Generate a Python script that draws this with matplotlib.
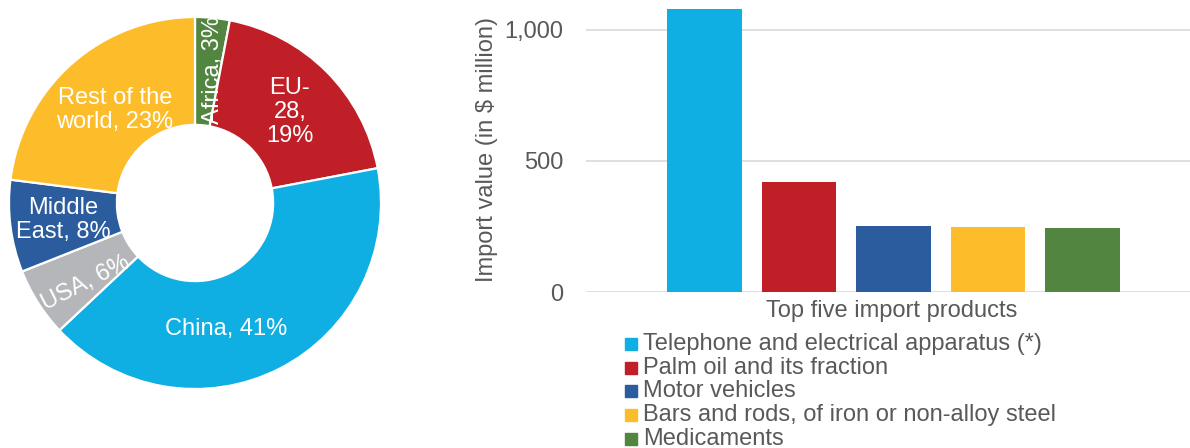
import matplotlib.pyplot as plt
from matplotlib.patches import Rectangle

plt.rcParams['font.family'] = ['Liberation Sans', 'DejaVu Sans']

# donut: import share by origin (clockwise from 12 o'clock)
regions = ['Africa', 'EU-28', 'China', 'USA', 'Middle East', 'Rest of the world']
shares = [3, 19, 41, 6, 8, 23]
region_colors = ['#528540', '#C01F27', '#0FAEE3', '#B5B6BA', '#2B5C9E', '#FDBD2A']
region_labels = ['Africa, 3%', 'EU-\n28,\n19%', 'China, 41%', 'USA, 6%',
                 'Middle\nEast, 8%', 'Rest of the\nworld, 23%']

# bars: top five import products ($ million)
products = ['Telephone and electrical apparatus (*)', 'Palm oil and its fraction',
            'Motor vehicles', 'Bars and rods, of iron or non-alloy steel', 'Medicaments']
values = [1080, 420, 252, 248, 244]
product_colors = ['#0FAEE3', '#C01F27', '#2B5C9E', '#FDBD2A', '#528540']

W, H = 1190, 448
txt = '#595959'
fs = 17
fig = plt.figure(figsize=(W / 100, H / 100), dpi=100)

# ---- donut
cx, cy, r = 195, 203, 186
ax1 = fig.add_axes([(cx - r) / W, (H - cy - r) / H, 2 * r / W, 2 * r / H])
ax1.pie(shares, colors=region_colors, startangle=90, counterclock=False,
        radius=1, wedgeprops=dict(width=0.58, edgecolor='white', linewidth=1.6))
ax1.set_xlim(-1, 1)
ax1.set_ylim(-1, 1)
ax1.axis('off')

# label spots (x, y, rotation) picked to sit like the original
spots = [(0.097, 0.715, 90), (0.51, 0.49, 0), (0.17, -0.68, 0),
         (-0.59, -0.43, 27), (-0.71, -0.09, 0), (-0.43, 0.50, 0)]
for lab, (x, y, rot) in zip(region_labels, spots):
    ax1.text(x, y, lab, ha='center', va='center', rotation=rot, color='white',
             fontsize=fs, linespacing=1.1, rotation_mode='anchor')

# ---- bars
left, right, top, base = 586, 1190, 9, 292
ax2 = fig.add_axes([left / W, (H - base) / H, (right - left) / W, (base - top) / H])
xs = list(range(len(values)))
ax2.bar(xs, values, width=0.79, color=product_colors, zorder=3)
ax2.set_ylim(0, 1080)
ax2.set_xlim(-1.254, 5.14)
ax2.set_yticks([0, 500, 1000])
ax2.set_yticklabels(['0', '500', '1,000'])
ax2.yaxis.grid(True, color='#D9D9D9', linewidth=1.2, zorder=0)
ax2.set_xticks([])
for s in ax2.spines.values():
    s.set_visible(False)
ax2.tick_params(axis='y', length=0, labelsize=fs, labelcolor=txt, pad=16.5)

fig.text(487 / W, 1 - 149 / H, 'Import value (in $ million)', rotation=90,
         ha='center', va='center', fontsize=fs, color=txt)
fig.text(892 / W, 1 - 311 / H, 'Top five import products', ha='center',
         va='center', fontsize=fs, color=txt)

# legend
row0, step = 344, 23.7
for i, (name, col) in enumerate(zip(products, product_colors)):
    yc = row0 + i * step
    fig.patches.append(Rectangle((625 / W, 1 - (yc + 6) / H), 12 / W, 12 / H,
                                 transform=fig.transFigure, color=col))
    fig.text(643 / W, 1 - yc / H, name, ha='left', va='center',
             fontsize=fs, color=txt)

fig.savefig('out.png', dpi=100)
